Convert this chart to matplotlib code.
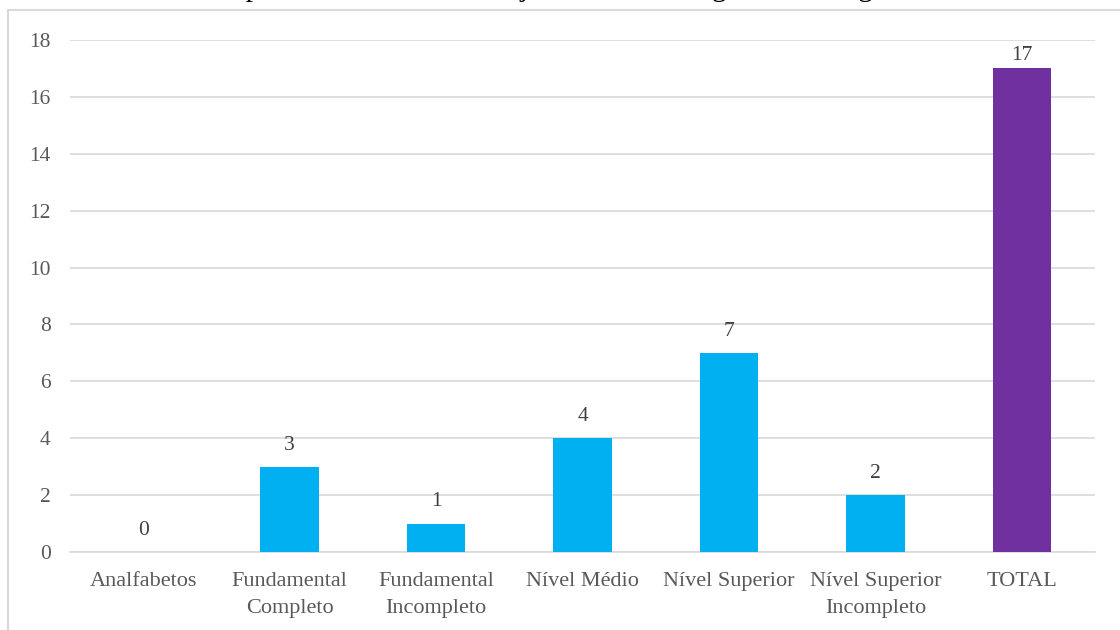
import matplotlib
matplotlib.use("Agg")
import matplotlib.pyplot as plt
from matplotlib.patches import Rectangle

categories = ["Analfabetos", "Fundamental\nCompleto", "Fundamental\nIncompleto",
              "Nível Médio", "Nível Superior", "Nível Superior\nIncompleto", "TOTAL"]
values = [0, 3, 1, 4, 7, 2, 17]
bar_colors = ["#00B0F0"] * 6 + ["#7030A0"]
yticks = [0, 2, 4, 6, 8, 10, 12, 14, 16, 18]
title = "Corpo de servidores do Projeto conforme o grau e a categoria"

plt.rcParams["font.family"] = ["Liberation Serif", "DejaVu Serif"]

fig = plt.figure(figsize=(11.2, 6.3), dpi=100)
ax = fig.add_axes([70 / 1120, 1 - 552 / 630, (1095 - 70) / 1120, (552 - 40) / 630])

# chart frame
fig.patches.append(Rectangle((8 / 1120, -0.05), 1.2, 1 - 10 / 630 + 0.05,
                             transform=fig.transFigure, fill=False,
                             edgecolor="#D9D9D9", linewidth=1.5))

x = range(len(categories))
ax.bar(x, values, width=0.4, color=bar_colors, zorder=3)

ymax = yticks[-1]
# value labels sit above each bar, kept inside the plot area
for xi, v in zip(x, values):
    ly = min(v + 0.76, ymax - 0.55)
    ax.text(xi, ly, str(v), ha="center", va="center", fontsize=15.5, color="#404040")

ax.set_xlim(-0.5, len(categories) - 0.5)
ax.set_ylim(0, ymax)
ax.set_yticks(yticks)
ax.set_xticks(list(x))
ax.set_xticklabels(categories, fontsize=16, color="#595959", linespacing=1.55)
ax.tick_params(axis="y", labelsize=15.5, labelcolor="#595959", length=0, pad=14)
ax.tick_params(axis="x", length=0, pad=14.5)
ax.grid(axis="y", color="#D9D9D9", linewidth=1.2, zorder=0)
for side in ["top", "right", "left"]:
    ax.spines[side].set_visible(False)
ax.spines["bottom"].set_color("#D9D9D9")
ax.spines["bottom"].set_linewidth(1.2)

fig.text(0.5, 1 + 4 / 630, title, ha="center", va="baseline", fontsize=21, color="#000000")

fig.savefig("out.png", dpi=100)
